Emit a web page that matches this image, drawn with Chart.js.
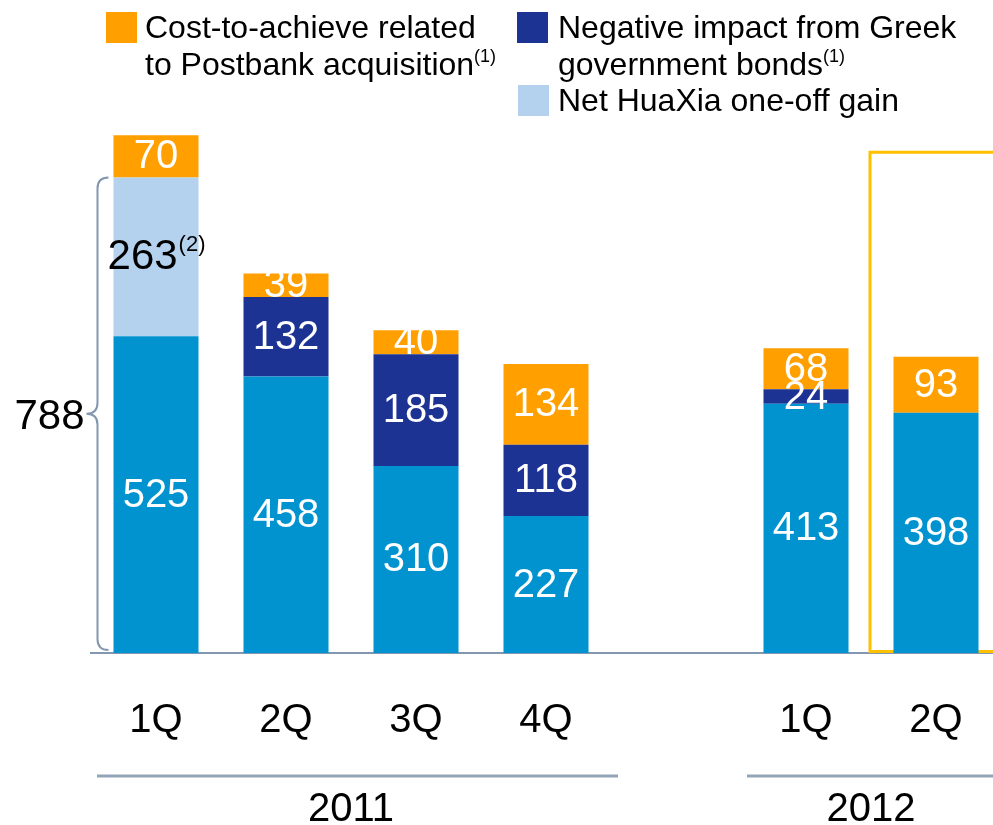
<!DOCTYPE html>
<html><head><meta charset="utf-8">
<script src="https://cdn.jsdelivr.net/npm/chart.js@4.4.0/dist/chart.umd.min.js"></script>
<style>
html,body{margin:0;padding:0;background:#fff;overflow:hidden;width:993px;height:825px;}
#wrap{position:absolute;left:0;top:0;width:1001px;height:825px;}
.leg{position:absolute;font-family:'Liberation Sans',Arial,sans-serif;font-size:32px;line-height:37px;color:#000;white-space:nowrap;}
.sw{position:absolute;width:31px;height:31px;}
.sup{font-size:18px;position:relative;top:-13px;}
</style></head><body>
<div id="wrap"><canvas id="c" width="1001" height="825"></canvas></div>
<div class="sw" style="left:106px;top:12px;background:#FF9F00"></div>
<div class="leg" style="left:145px;top:9px">Cost-to-achieve related<br>to Postbank acquisition<span class="sup">(1)</span></div>
<div class="sw" style="left:517px;top:12px;background:#1D3394"></div>
<div class="leg" style="left:558px;top:9px">Negative impact from Greek<br>government bonds<span class="sup">(1)</span></div>
<div class="sw" style="left:518px;top:85px;background:#B4D2EE"></div>
<div class="leg" style="left:558px;top:82px">Net HuaXia one-off gain</div>
<script>
// ---- data ----
const categories = ['1Q', '2Q', '3Q', '4Q', '', '1Q', '2Q'];
const baseValues = [525, 458, 310, 227, null, 413, 398];
const huaxiaGain = [263, 0, 0, 0, null, 0, 0];
const greekImpact = [0, 132, 185, 118, null, 24, 0];
const costToAchieve = [70, 39, 40, 134, null, 68, 93];
const yearLabels = ['2011', '2012'];
const yearFirstIndex = [0, 5];
const yearLastIndex = [3, 6];
const bracketValue = 788;      // 525 + 263
const highlightTop = 830;      // top of highlight frame (value units)
const highlightFromIndex = 6;

const FONT = "'Liberation Sans', Arial, sans-serif";
const AXIS_COLOR = '#8497B0';

const labelPlugin = {
  id: 'segLabels',
  afterDatasetsDraw(chart) {
    const ctx = chart.ctx;
    ctx.save();
    chart.data.datasets.forEach((ds, di) => {
      const meta = chart.getDatasetMeta(di);
      meta.data.forEach((el, i) => {
        const v = ds.data[i];
        if (!v) return;
        const top = Math.min(el.y, el.base), bottom = Math.max(el.y, el.base);
        const cy = (top + bottom) / 2;
        const fs = ds.labelSize || 40;
        ctx.font = fs + 'px ' + FONT;
        ctx.fillStyle = ds.labelColor || '#fff';
        ctx.textBaseline = 'middle';
        const main = String(v);
        const suf = ds.labelSuffix || '';
        const wMain = ctx.measureText(main).width;
        ctx.font = '22px ' + FONT;
        const wSuf = suf ? ctx.measureText(suf).width : 0;
        const x0 = el.x - (wMain + wSuf) / 2;
        ctx.font = fs + 'px ' + FONT;
        ctx.textAlign = 'left';
        ctx.fillText(main, x0, cy + 1);
        if (suf) {
          ctx.font = '22px ' + FONT;
          ctx.fillText(suf, x0 + wMain + 1, cy - 12);
        }
      });
    });
    ctx.restore();
  }
};

const framePlugin = {
  id: 'frame',
  beforeDatasetsDraw(chart) {
    const ctx = chart.ctx, xs = chart.scales.x, ys = chart.scales.y;
    const xl = (xs.getPixelForValue(highlightFromIndex - 1) + xs.getPixelForValue(highlightFromIndex)) / 2 - 1;
    const yt = ys.getPixelForValue(highlightTop);
    const yb = ys.getPixelForValue(0) - 1.5;
    ctx.save();
    ctx.strokeStyle = '#FFC000';
    ctx.lineWidth = 3;
    ctx.beginPath();
    ctx.moveTo(chart.width + 10, yt);
    ctx.lineTo(xl, yt);
    ctx.lineTo(xl, yb);
    ctx.lineTo(chart.width + 10, yb);
    ctx.stroke();
    ctx.restore();
  }
};

const annoPlugin = {
  id: 'anno',
  afterDraw(chart) {
    const ctx = chart.ctx, xs = chart.scales.x, ys = chart.scales.y;
    const catW = xs.getPixelForValue(1) - xs.getPixelForValue(0);
    // curly bracket
    const el = chart.getDatasetMeta(0).data[0];
    const xL = el.x - el.width / 2 - 16;
    const yT = ys.getPixelForValue(bracketValue);
    const yB = ys.getPixelForValue(0) - 3;
    const mid = (yT + yB) / 2;
    const r = 11;
    ctx.save();
    ctx.strokeStyle = AXIS_COLOR;
    ctx.lineWidth = 2;
    ctx.beginPath();
    ctx.moveTo(xL + r, yT);
    ctx.quadraticCurveTo(xL, yT, xL, yT + r);
    ctx.lineTo(xL, mid - r);
    ctx.quadraticCurveTo(xL, mid, xL - r, mid);
    ctx.quadraticCurveTo(xL, mid, xL, mid + r);
    ctx.lineTo(xL, yB - r);
    ctx.quadraticCurveTo(xL, yB, xL + r, yB);
    ctx.stroke();
    ctx.fillStyle = '#000';
    ctx.font = '42px ' + FONT;
    ctx.textAlign = 'right';
    ctx.textBaseline = 'middle';
    ctx.fillText(String(bracketValue), xL - r - 2, mid + 4);
    // year groups
    ctx.strokeStyle = '#93A4B8';
    ctx.lineWidth = 3;
    ctx.font = '40px ' + FONT;
    ctx.textAlign = 'center';
    yearLabels.forEach((lab, k) => {
      const x1 = xs.getPixelForValue(yearFirstIndex[k]) - catW / 2 + 6;
      const x2 = Math.min(xs.getPixelForValue(yearLastIndex[k]) + catW / 2 + 7, chart.width);
      ctx.beginPath();
      ctx.moveTo(x1, 776);
      ctx.lineTo(x2, 776);
      ctx.stroke();
      const cx = (xs.getPixelForValue(yearFirstIndex[k]) + xs.getPixelForValue(yearLastIndex[k])) / 2;
      ctx.fillText(lab, cx, 810);
    });
    ctx.restore();
  }
};

new Chart(document.getElementById('c'), {
  type: 'bar',
  data: {
    labels: categories,
    datasets: [
      { label: 'Base', data: baseValues, backgroundColor: '#0093D0' },
      { label: 'Net HuaXia one-off gain', data: huaxiaGain, backgroundColor: '#B4D2EE', labelColor: '#000', labelSuffix: '(2)', labelSize: 42 },
      { label: 'Negative impact from Greek government bonds', data: greekImpact, backgroundColor: '#1D3394' },
      { label: 'Cost-to-achieve related to Postbank acquisition', data: costToAchieve, backgroundColor: '#FF9F00' }
    ]
  },
  options: {
    responsive: false,
    animation: false,
    events: [],
    layout: { padding: { left: 91, right: 0, top: 128, bottom: 44 } },
    datasets: { bar: { barPercentage: 0.654, categoryPercentage: 1 } },
    plugins: { legend: { display: false }, tooltip: { enabled: false } },
    scales: {
      x: {
        stacked: true,
        grid: { display: false },
        border: { display: true, color: AXIS_COLOR, width: 2 },
        ticks: { color: '#000', font: { family: FONT, size: 40 }, padding: 36, maxRotation: 0, autoSkip: false }
      },
      y: { stacked: true, display: false, min: 0, max: 870 }
    }
  },
  plugins: [framePlugin, labelPlugin, annoPlugin]
});
</script>
</body></html>
